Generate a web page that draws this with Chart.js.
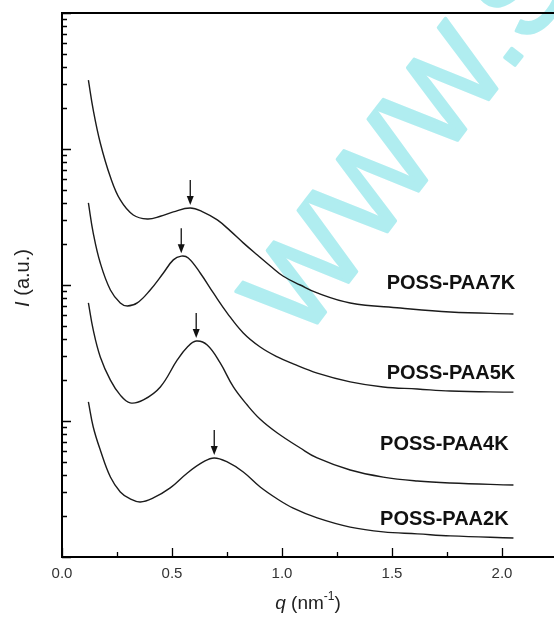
<!DOCTYPE html>
<html>
<head>
<meta charset="utf-8">
<script src="https://cdn.jsdelivr.net/npm/chart.js@4.4.1/dist/chart.umd.min.js"></script>
<style>
  html, body { margin: 0; padding: 0; background: #fff; overflow: hidden; }
  #wrap { width: 575px; height: 619px; position: relative; }
</style>
</head>
<body>
<div id="wrap"><canvas id="saxs"></canvas></div>
<script>
// ── Series data (q in nm^-1, intensity in a.u.) ──────────────
const seriesNames = ['POSS-PAA7K', 'POSS-PAA5K', 'POSS-PAA4K', 'POSS-PAA2K'];

const q7K = [0.120, 0.142, 0.174, 0.220, 0.265, 0.324, 0.388, 0.447, 0.506, 0.583, 0.642, 0.706, 0.765, 0.824, 0.888, 0.947, 1.006, 1.083, 1.160, 1.310, 1.538, 1.765, 2.052];
const i7K = [3214, 1936, 1107, 622, 422, 327, 306, 320, 345, 368, 344, 301, 250, 204, 166, 138, 116, 100, 87.4, 73.8, 67.7, 63.3, 61.2];

const q5K = [0.120, 0.142, 0.174, 0.220, 0.265, 0.297, 0.342, 0.401, 0.460, 0.506, 0.542, 0.574, 0.629, 0.688, 0.751, 0.824, 0.901, 0.979, 1.051, 1.160, 1.310, 1.460, 1.615, 1.765, 2.052];
const i5K = [401, 241, 145, 91.9, 73.8, 70.1, 73.8, 91.9, 122, 153, 163, 158, 122, 87.4, 62.2, 44.4, 35.0, 29.6, 26.3, 22.5, 19.4, 17.8, 17.2, 16.6, 16.3];

const q4K = [0.120, 0.142, 0.174, 0.220, 0.265, 0.310, 0.370, 0.447, 0.524, 0.570, 0.610, 0.660, 0.719, 0.779, 0.842, 0.901, 0.979, 1.083, 1.160, 1.310, 1.460, 1.615, 1.765, 2.052];
const i4K = [73.8, 46.7, 29.6, 20.0, 15.5, 13.6, 14.3, 17.8, 28.1, 35.0, 38.7, 36.2, 26.7, 17.8, 13.1, 10.3, 8.16, 6.33, 5.35, 4.36, 3.87, 3.62, 3.50, 3.38];

const q2K = [0.120, 0.142, 0.174, 0.220, 0.265, 0.310, 0.356, 0.415, 0.492, 0.570, 0.642, 0.692, 0.751, 0.824, 0.901, 0.979, 1.051, 1.160, 1.310, 1.460, 1.615, 1.765, 2.052];
const i2K = [13.8, 9.03, 6.12, 3.87, 3.01, 2.67, 2.54, 2.72, 3.22, 4.15, 5.0, 5.35, 5.0, 4.22, 3.27, 2.67, 2.29, 1.94, 1.66, 1.53, 1.48, 1.43, 1.38];

// peak markers (arrows) and curve labels
const peakQ  = [0.583, 0.542, 0.610, 0.692];
const peakI  = [368, 163, 38.7, 5.35];
const labelQ = [2.06, 2.06, 2.03, 2.03];
const labelI = [103, 22.5, 6.7, 1.9];

// axis ticks
const xTickValues = [0, 0.25, 0.5, 0.75, 1.0, 1.25, 1.5, 1.75, 2.0];
const xTickLabels = ['0.0', '', '0.5', '', '1.0', '', '1.5', '', '2.0'];
const yDecades    = [1, 10, 100, 1000];
const yTickValues = yDecades.flatMap(d => [1, 2, 3, 4, 5, 6, 7, 8, 9].map(m => m * d)).concat([10000]);

const FONT = "'Liberation Sans', Arial, Helvetica, sans-serif";

const toPoints = (qs, is) => qs.map((q, i) => ({ x: q, y: is[i] }));

// ── Decorations: watermark, frame, inward ticks, arrows, labels ──
const decor = {
  id: 'decor',
  beforeDatasetsDraw(chart) {
    const { ctx } = chart;
    ctx.save();
    ctx.translate(302, 343);
    ctx.rotate(-52.5 * Math.PI / 180);
    ctx.fillStyle   = 'rgb(176,237,240)';
    ctx.strokeStyle = 'rgb(176,237,240)';
    ctx.lineWidth   = 3;
    ctx.lineJoin    = 'round';
    ctx.font = `122px ${FONT}`;
    ctx.textBaseline = 'alphabetic';
    ctx.fillText('WWW.S', 0, 0);
    ctx.strokeText('WWW.S', 0, 0);
    ctx.restore();
  },
  afterDatasetsDraw(chart) {
    const { ctx, chartArea: a, scales: { x, y } } = chart;
    ctx.save();

    // frame
    ctx.strokeStyle = '#000';
    ctx.lineWidth = 2;
    ctx.strokeRect(a.left, a.top, a.right - a.left, a.bottom - a.top);

    // inward ticks
    ctx.lineWidth = 1.3;
    ctx.beginPath();
    x.ticks.forEach(t => {
      const px = Math.round(x.getPixelForValue(t.value)) + 0.5;
      const major = Math.abs(t.value * 2 - Math.round(t.value * 2)) < 1e-6;
      ctx.moveTo(px, a.bottom);
      ctx.lineTo(px, a.bottom - (major ? 9 : 5));
    });
    y.ticks.forEach(t => {
      const lg = Math.log10(t.value);
      const py = Math.round(y.getPixelForValue(t.value)) + 0.5;
      const major = Math.abs(lg - Math.round(lg)) < 1e-6;
      ctx.moveTo(a.left, py);
      ctx.lineTo(a.left + (major ? 9 : 5), py);
    });
    ctx.stroke();

    // peak arrows
    ctx.fillStyle = '#111';
    ctx.strokeStyle = '#111';
    peakQ.forEach((q, i) => {
      const px = x.getPixelForValue(q);
      const tip = y.getPixelForValue(peakI[i]) - 3;
      ctx.beginPath();
      ctx.moveTo(px, tip - 25);
      ctx.lineTo(px, tip - 7);
      ctx.stroke();
      ctx.beginPath();
      ctx.moveTo(px - 3.5, tip - 9);
      ctx.lineTo(px + 3.5, tip - 9);
      ctx.lineTo(px, tip);
      ctx.closePath();
      ctx.fill();
    });

    // curve labels
    ctx.font = `bold 20px ${FONT}`;
    ctx.textAlign = 'right';
    ctx.textBaseline = 'middle';
    seriesNames.forEach((name, i) => {
      ctx.fillText(name, x.getPixelForValue(labelQ[i]), y.getPixelForValue(labelI[i]));
    });

    // y axis title: I (a.u.)
    ctx.fillStyle = '#222';
    ctx.textAlign = 'left';
    ctx.textBaseline = 'alphabetic';
    ctx.translate(29, 278);
    ctx.rotate(-Math.PI / 2);
    const yItal = `italic 20px ${FONT}`, yNorm = `20px ${FONT}`;
    ctx.font = yItal; const w1 = ctx.measureText('I').width;
    ctx.font = yNorm; const w2 = ctx.measureText(' (a.u.)').width;
    let sx = -(w1 + w2) / 2;
    ctx.font = yItal; ctx.fillText('I', sx, 0);
    ctx.font = yNorm; ctx.fillText(' (a.u.)', sx + w1, 0);
    ctx.setTransform(1, 0, 0, 1, 0, 0);

    // x axis title: q (nm^-1)
    const xItal = `italic 19px ${FONT}`, xNorm = `19px ${FONT}`, xSup = `12px ${FONT}`;
    ctx.font = xItal; const a1 = ctx.measureText('q').width;
    ctx.font = xNorm; const a2 = ctx.measureText(' (nm').width;
    ctx.font = xSup;  const a3 = ctx.measureText('-1').width;
    ctx.font = xNorm; const a4 = ctx.measureText(')').width;
    sx = 308 - (a1 + a2 + a3 + a4) / 2;
    const by = 609;
    ctx.font = xItal; ctx.fillText('q', sx, by); sx += a1;
    ctx.font = xNorm; ctx.fillText(' (nm', sx, by); sx += a2;
    ctx.font = xSup;  ctx.fillText('-1', sx, by - 9); sx += a3;
    ctx.font = xNorm; ctx.fillText(')', sx, by);

    ctx.restore();
  }
};

// ── Chart ─────────────────────────────────────────────────────
const lineStyle = {
  borderColor: '#1b1b1b',
  borderWidth: 1.4,
  pointRadius: 0,
  fill: false,
  tension: 0.4,
};

new Chart(document.getElementById('saxs'), {
  type: 'line',
  data: {
    datasets: [
      { label: seriesNames[0], data: toPoints(q7K, i7K), ...lineStyle },
      { label: seriesNames[1], data: toPoints(q5K, i5K), ...lineStyle },
      { label: seriesNames[2], data: toPoints(q4K, i4K), ...lineStyle },
      { label: seriesNames[3], data: toPoints(q2K, i2K), ...lineStyle },
    ],
  },
  options: {
    responsive:          true,
    maintainAspectRatio: false,
    animation:           false,
    layout: { padding: { left: 62, right: 18, top: 13, bottom: 22 } },
    plugins: {
      legend:  { display: false },
      tooltip: { enabled: false },
    },
    scales: {
      x: {
        type: 'linear',
        min: 0,
        max: 2.25,
        afterBuildTicks: (scale) => { scale.ticks = xTickValues.map(v => ({ value: v })); },
        afterFit: (scale) => { scale.height = 40; },
        ticks: {
          color:    '#333',
          font:     { family: FONT, size: 15 },
          padding:  8,
          maxRotation: 0,
          autoSkip: false,
          callback: (val, idx) => xTickLabels[idx],
        },
        grid:   { display: false, drawTicks: false },
        border: { display: false },
      },
      y: {
        type: 'logarithmic',
        min: 1,
        max: 10000,
        afterBuildTicks: (scale) => { scale.ticks = yTickValues.map(v => ({ value: v })); },
        afterFit: (scale) => { scale.width = 0; },
        ticks:  { display: false },
        grid:   { display: false, drawTicks: false },
        border: { display: false },
      },
    },
  },
  plugins: [decor],
});
</script>
</body>
</html>
